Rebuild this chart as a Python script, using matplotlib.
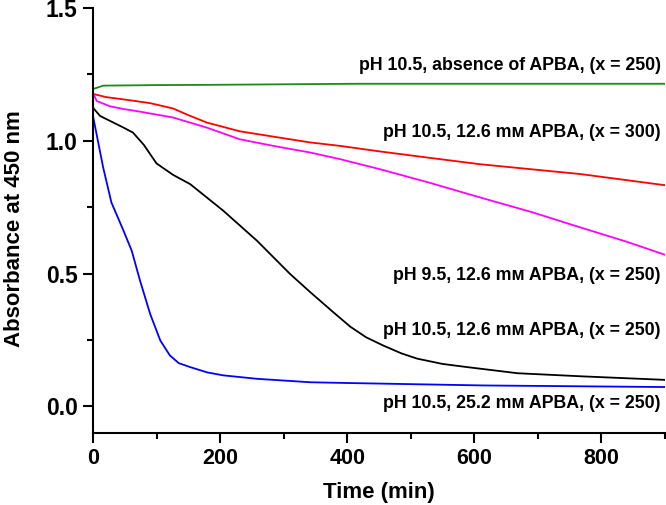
import matplotlib
matplotlib.use("Agg")
import matplotlib.pyplot as plt
from matplotlib.ticker import MultipleLocator, FormatStrFormatter

plt.rcParams['font.family'] = ['Liberation Sans', 'DejaVu Sans']
plt.rcParams['font.weight'] = 'bold'

# Data (time in min, absorbance at 450 nm)
t_green = [0, 16, 100, 184, 300, 418, 600, 800, 900]
a_green = [1.195, 1.208, 1.210, 1.211, 1.213, 1.215, 1.215, 1.215, 1.215]

t_red = [0, 20, 58, 90, 126, 150, 179, 231, 310, 342, 389, 452, 530, 609, 690, 767, 900]
a_red = [1.177, 1.165, 1.153, 1.142, 1.122, 1.097, 1.069, 1.036, 1.006, 0.994, 0.981, 0.960, 0.936, 0.912, 0.893, 0.875, 0.833]

t_mag = [0, 6, 27, 48, 74, 126, 179, 231, 284, 342, 389, 452, 530, 609, 690, 767, 840, 900]
a_mag = [1.180, 1.150, 1.130, 1.120, 1.110, 1.088, 1.050, 1.006, 0.981, 0.956, 0.931, 0.893, 0.842, 0.787, 0.732, 0.674, 0.620, 0.571]

t_black = [0, 11, 48, 63, 80, 100, 126, 153, 205, 258, 310, 342, 378, 405, 430, 457, 485, 510, 550, 589, 668, 772, 900]
a_black = [1.125, 1.094, 1.050, 1.031, 0.985, 0.915, 0.872, 0.837, 0.737, 0.624, 0.499, 0.430, 0.355, 0.300, 0.260, 0.229, 0.200, 0.180, 0.160, 0.148, 0.125, 0.113, 0.100]

t_blue = [0, 16, 29, 48, 61, 74, 90, 106, 121, 135, 153, 180, 205, 258, 342, 405, 614, 900]
a_blue = [1.094, 0.900, 0.768, 0.662, 0.586, 0.474, 0.348, 0.248, 0.192, 0.163, 0.148, 0.128, 0.117, 0.104, 0.091, 0.088, 0.079, 0.073]

labels = [
    "pH 10.5, absence of APBA, (x = 250)",
    "pH 10.5, 12.6 m\u1d0d APBA, (x = 300)",
    "pH 9.5, 12.6 m\u1d0d APBA, (x = 250)",
    "pH 10.5, 12.6 m\u1d0d APBA, (x = 250)",
    "pH 10.5, 25.2 m\u1d0d APBA, (x = 250)",
]
label_y = [1.282, 1.031, 0.492, 0.286, 0.011]

fig = plt.figure(figsize=(6.66, 5.05), dpi=100)
ax = fig.add_axes([0.1396, 0.1426, 0.8589, 0.8414])

ax.plot(t_green, a_green, color='#1a8a1a', lw=1.3)
ax.plot(t_red, a_red, color='#ff0000', lw=1.3)
ax.plot(t_mag, a_mag, color='#ff00ff', lw=1.3)
ax.plot(t_black, a_black, color='black', lw=1.3)
ax.plot(t_blue, a_blue, color='#0000ff', lw=1.3)

for lab, yy in zip(labels, label_y):
    ax.text(893, yy, lab, ha='right', va='center', fontsize=12.8, fontweight='bold')

ax.set_xlim(0, 900)
ax.set_ylim(-0.1, 1.5)
ax.xaxis.set_major_locator(MultipleLocator(200))
ax.xaxis.set_minor_locator(MultipleLocator(100))
ax.yaxis.set_major_locator(MultipleLocator(0.5))
ax.yaxis.set_minor_locator(MultipleLocator(0.25))
ax.yaxis.set_major_formatter(FormatStrFormatter('%.1f'))

for s in ['top', 'right']:
    ax.spines[s].set_visible(False)
for s in ['left', 'bottom']:
    ax.spines[s].set_linewidth(1.5)

ax.tick_params(which='major', direction='out', length=7, width=1.5, pad=4)
ax.tick_params(which='minor', direction='out', length=4, width=1.5)
ax.tick_params(axis='x', labelsize=15.5)
ax.tick_params(axis='y', labelsize=16.5)
for lbl in ax.get_xticklabels() + ax.get_yticklabels():
    lbl.set_fontweight('bold')

ax.set_xlabel('Time (min)', fontsize=16, fontweight='bold', va='center')
ax.xaxis.set_label_coords(0.5, -0.139)
ax.set_ylabel('Absorbance at 450 nm', fontsize=16, fontweight='bold', va='center')
ax.yaxis.set_label_coords(-0.138, 0.48)

fig.savefig('out.png', dpi=100)
